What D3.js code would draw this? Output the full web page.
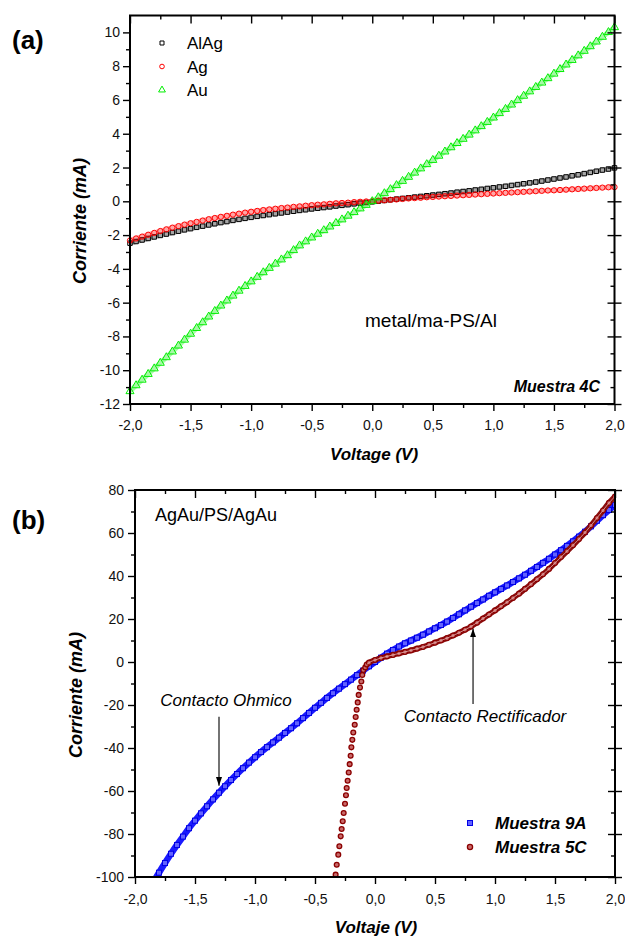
<!DOCTYPE html>
<html>
<head>
<meta charset="utf-8">
<script src="https://cdn.jsdelivr.net/npm/d3@7"></script>
<style>
body { margin: 0; background: #fff; }
svg { display: block; font-family: "Liberation Sans", Arial, sans-serif; }
</style>
</head>
<body>
<svg id="chart" width="625" height="937"></svg>
<script>
// ---- panel (a): metal/ma-PS/Al, Muestra 4C ----
const voltTop = [-2,-1.95,-1.9,-1.85,-1.8,-1.75,-1.7,-1.65,-1.6,-1.55,-1.5,-1.45,-1.4,-1.35,-1.3,-1.25,-1.2,-1.15,-1.1,-1.05,
  -1,-0.95,-0.9,-0.85,-0.8,-0.75,-0.7,-0.65,-0.6,-0.55,-0.5,-0.45,-0.4,-0.35,-0.3,-0.25,-0.2,-0.15,-0.1,-0.05,
  0,0.05,0.1,0.15,0.2,0.25,0.3,0.35,0.4,0.45,0.5,0.55,0.6,0.65,0.7,0.75,0.8,0.85,0.9,0.95,
  1,1.05,1.1,1.15,1.2,1.25,1.3,1.35,1.4,1.45,1.5,1.55,1.6,1.65,1.7,1.75,1.8,1.85,1.9,1.95,2]
const curAlAg = [-2.48,-2.38,-2.29,-2.2,-2.11,-2.02,-1.94,-1.85,-1.77,-1.69,-1.62,-1.54,-1.47,-1.4,-1.33,-1.26,-1.2,-1.13,-1.07,-1.01,
  -0.95,-0.89,-0.84,-0.79,-0.74,-0.69,-0.64,-0.59,-0.54,-0.5,-0.45,-0.41,-0.37,-0.33,-0.28,-0.24,-0.2,-0.15,-0.11,-0.07,
  -0.03,0.01,0.05,0.09,0.13,0.17,0.21,0.25,0.29,0.33,0.37,0.41,0.45,0.49,0.54,0.58,0.62,0.67,0.71,0.76,
  0.8,0.85,0.89,0.94,0.99,1.04,1.09,1.14,1.2,1.26,1.32,1.38,1.44,1.51,1.57,1.64,1.71,1.78,1.85,1.91,1.98]
const curAg = [-2.32,-2.2,-2.09,-1.98,-1.87,-1.76,-1.66,-1.56,-1.47,-1.38,-1.3,-1.22,-1.14,-1.06,-0.99,-0.92,-0.86,-0.79,-0.73,-0.67,
  -0.62,-0.57,-0.52,-0.48,-0.44,-0.4,-0.37,-0.33,-0.3,-0.26,-0.23,-0.2,-0.18,-0.15,-0.12,-0.1,-0.08,-0.05,-0.03,-0.01,
  0.01,0.04,0.06,0.09,0.11,0.14,0.17,0.19,0.21,0.24,0.26,0.28,0.3,0.32,0.34,0.36,0.38,0.4,0.42,0.44,
  0.46,0.48,0.5,0.52,0.54,0.56,0.58,0.6,0.62,0.64,0.65,0.67,0.69,0.71,0.73,0.75,0.77,0.79,0.81,0.83,0.84]
const curAu = [-11.25,-10.9,-10.57,-10.23,-9.9,-9.57,-9.24,-8.9,-8.55,-8.2,-7.85,-7.51,-7.17,-6.83,-6.5,-6.18,-5.88,-5.59,-5.3,-5.02,
  -4.75,-4.48,-4.21,-3.95,-3.7,-3.45,-3.2,-2.9,-2.62,-2.38,-2.15,-1.93,-1.72,-1.5,-1.29,-1.08,-0.86,-0.65,-0.43,-0.22,
  0,0.23,0.47,0.71,0.95,1.2,1.44,1.69,1.94,2.19,2.44,2.69,2.94,3.19,3.44,3.69,3.94,4.19,4.44,4.69,
  4.95,5.21,5.46,5.72,5.98,6.24,6.5,6.76,7.02,7.28,7.55,7.82,8.09,8.36,8.63,8.9,9.17,9.45,9.73,10.01,10.3]
const seriesTop = ["AlAg", "Ag", "Au"]

// ---- panel (b): AgAu/PS/AgAu ----
const volt9A = [-1.85,-1.8,-1.75,-1.7,-1.65,-1.6,-1.55,-1.5,-1.45,-1.4,-1.35,-1.3,-1.25,-1.2,-1.15,-1.1,-1.05,
  -1,-0.95,-0.9,-0.85,-0.8,-0.75,-0.7,-0.65,-0.6,-0.55,-0.5,-0.45,-0.4,-0.35,-0.3,-0.25,-0.2,-0.15,-0.1,-0.05,
  0,0.05,0.1,0.15,0.2,0.25,0.3,0.35,0.4,0.45,0.5,0.55,0.6,0.65,0.7,0.75,0.8,0.85,0.9,0.95,
  1,1.05,1.1,1.15,1.2,1.25,1.3,1.35,1.4,1.45,1.5,1.55,1.6,1.65,1.7,1.75,1.8,1.85,1.9,1.95,2]
const cur9A = [-102.7,-98,-93.5,-89.2,-85.1,-81.2,-77.3,-73.8,-70.4,-67.1,-63.9,-60.8,-57.8,-54.9,-52.1,-49.4,-46.8,
  -44.3,-41.9,-39.6,-37.4,-35.2,-33,-30.8,-28.5,-26.1,-23.7,-21.3,-19,-16.7,-14.5,-12.4,-10.3,-8.2,-6.1,-4,-2,
  0,2,3.9,5.6,7.2,8.7,10,11.3,12.7,14.2,15.7,17.2,18.8,20.5,22.2,24,25.7,27.4,29.1,30.8,
  32.4,34,35.6,37.2,38.9,40.6,42.4,44.2,46.1,48,50,52,54,56.1,58.3,60.6,63.1,65.7,68.3,70.7,73]
const volt5C = [-0.328,-0.319,-0.306,-0.297,-0.286,-0.278,-0.269,-0.261,-0.25,-0.242,-0.236,-0.228,-0.219,-0.211,-0.203,
  -0.197,-0.189,-0.181,-0.169,-0.161,-0.153,-0.144,-0.136,-0.125,-0.114,-0.106,-0.097,-0.081,-0.069,
  -0.05,0,0.05,0.1,0.15,0.2,0.25,0.3,0.35,0.4,0.45,0.5,0.55,0.6,0.65,0.7,0.75,0.8,0.85,0.9,0.95,
  1,1.05,1.1,1.15,1.2,1.25,1.3,1.35,1.4,1.45,1.5,1.55,1.6,1.65,1.7,1.75,1.8,1.85,1.9,1.95,2]
const cur5C = [-98.9,-94.3,-89.6,-85.7,-81.1,-77.7,-74.1,-70.2,-65.9,-62,-58.6,-55.2,-51.4,-47.5,-43.6,
  -39.7,-36.2,-32.8,-29.2,-25.6,-22.2,-18.8,-15.3,-11.9,-9.1,-6,-3.7,-2.5,-1.2,
  -0.3,0.9,1.9,2.6,3.3,4,4.7,5.4,6.2,7,8,9,10,11.1,12.3,13.6,15,16.5,18.3,20.2,22.1,
  24,25.9,27.8,29.8,31.8,34,36.2,38.5,40.8,43.3,46,48.8,51.5,54.3,57.2,60.2,63.5,67,70.5,74,77]
const seriesBot = ["Muestra 9A", "Muestra 5C"]

// tick values
const xMajor = [-2,-1.5,-1,-0.5,0,0.5,1,1.5,2]
const xMinor = [-1.75,-1.25,-0.75,-0.25,0.25,0.75,1.25,1.75]
const yMajorTop = [-12,-10,-8,-6,-4,-2,0,2,4,6,8,10]
const yMinorTop = [-11,-9,-7,-5,-3,-1,1,3,5,7,9]
const yMajorBot = [-100,-80,-60,-40,-20,0,20,40,60,80]
const yMinorBot = [-90,-70,-50,-30,-10,10,30,50,70]

const svg = d3.select("#chart")
const fmtV = d => d.toFixed(1).replace(".", ",")

const styleAxis = g => {
  g.select(".domain").remove()
  g.selectAll(".tick line").attr("stroke", "#000").attr("stroke-width", 1.4)
  g.selectAll(".tick text").attr("fill", "#111").style("font-size", "14px")
}

const drawAxes = (x, y, yMajor, yMinor, xPad, yPad) => {
  const [xl, xr] = x.range(), [yb, yt] = y.range()
  const ax = svg.append("g")
  // bottom
  ax.append("g").attr("transform", `translate(0,${yb})`)
    .call(d3.axisBottom(x).tickValues(xMajor).tickSize(7).tickPadding(xPad).tickFormat(fmtV)).call(styleAxis)
  ax.append("g").attr("transform", `translate(0,${yb})`)
    .call(d3.axisBottom(x).tickValues(xMinor).tickSize(4).tickFormat("")).call(styleAxis)
  // left
  ax.append("g").attr("transform", `translate(${xl},0)`)
    .call(d3.axisLeft(y).tickValues(yMajor).tickSize(7).tickPadding(yPad).tickFormat(d => String(d))).call(styleAxis)
  ax.append("g").attr("transform", `translate(${xl},0)`)
    .call(d3.axisLeft(y).tickValues(yMinor).tickSize(4).tickFormat("")).call(styleAxis)
  // top (ticks inward)
  ax.append("g").attr("transform", `translate(0,${yt})`)
    .call(d3.axisTop(x).tickValues(xMajor).tickSize(-8).tickFormat("")).call(styleAxis)
  ax.append("g").attr("transform", `translate(0,${yt})`)
    .call(d3.axisTop(x).tickValues(xMinor).tickSize(-4).tickFormat("")).call(styleAxis)
  // right (major ticks cross the axis)
  ax.append("g").attr("transform", `translate(${xr},0)`)
    .call(d3.axisRight(y).tickValues(yMajor).tickSize(7).tickFormat("")).call(styleAxis)
  ax.append("g").attr("transform", `translate(${xr},0)`)
    .call(d3.axisRight(y).tickValues(yMajor).tickSize(-7).tickFormat("")).call(styleAxis)
  ax.append("g").attr("transform", `translate(${xr},0)`)
    .call(d3.axisRight(y).tickValues(yMinor).tickSize(-4).tickFormat("")).call(styleAxis)
  ax.append("rect").attr("x", xl).attr("y", yt).attr("width", xr - xl).attr("height", yb - yt)
    .attr("fill", "none").attr("stroke", "#000").attr("stroke-width", 2)
}

const text = (x, y, s, size, opts = {}) => svg.append("text")
  .attr("x", x).attr("y", y).text(s)
  .style("font-size", size + "px")
  .style("font-weight", opts.bold ? "bold" : "normal")
  .style("font-style", opts.italic ? "italic" : "normal")
  .attr("text-anchor", opts.anchor || "start")
  .attr("transform", opts.rotate ? `rotate(-90,${x},${y})` : null)
  .attr("fill", "#000")

// ================= panel (a) =================
const xA = d3.scaleLinear().domain([-2, 2]).range([130, 614.5])
const yA = d3.scaleLinear().domain([-12, 11]).range([404, 15.5])

const topData = [curAlAg, curAg, curAu].map(c => voltTop.map((v, i) => [v, c[i]]))
const topStyle = [
  { color: "#000000", sym: d3.symbolSquare, size: 20, leg: 16 },
  { color: "#ff0000", sym: d3.symbolCircle, size: 22, leg: 17 },
  { color: "#00ee00", sym: d3.symbolTriangle, size: 28, leg: 20 }
]
const lineA = d3.line().x(d => xA(d[0])).y(d => yA(d[1]))

topData.forEach((data, k) => {
  const st = topStyle[k]
  const g = svg.append("g")
  g.append("path").datum(data).attr("d", lineA).attr("fill", "none")
    .attr("stroke", st.color).attr("stroke-opacity", 0.35).attr("stroke-width", 5)
  g.selectAll("path.m").data(data).join("path").attr("class", "m")
    .attr("d", d3.symbol(st.sym, st.size))
    .attr("transform", d => `translate(${xA(d[0])},${yA(d[1])})`)
    .attr("fill", "none").attr("stroke", st.color).attr("stroke-width", 1)
})

drawAxes(xA, yA, yMajorTop, yMinorTop, 9, 3)

// legend (a)
seriesTop.forEach((name, k) => {
  const st = topStyle[k], ly = 43 + k * 23.5
  svg.append("path").attr("d", d3.symbol(st.sym, st.leg)())
    .attr("transform", `translate(162,${ly})`)
    .attr("fill", "none").attr("stroke", st.color).attr("stroke-width", 1)
  text(187, ly + 6, name, 17)
})

text(365, 327, "metal/ma-PS/Al", 19)
text(600, 392, "Muestra 4C", 16, { bold: true, italic: true, anchor: "end" })
text(374, 460, "Voltage (V)", 17, { bold: true, italic: true, anchor: "middle" })
text(86, 221, "Corriente (mA)", 18, { bold: true, italic: true, anchor: "middle", rotate: true })
text(12, 49, "(a)", 26, { bold: true })

// ================= panel (b) =================
const xB = d3.scaleLinear().domain([-2, 2]).range([135, 615])
const yB = d3.scaleLinear().domain([-100, 80]).range([877, 490])

svg.append("clipPath").attr("id", "clipB").append("rect")
  .attr("x", 135).attr("y", 490).attr("width", 480).attr("height", 387)
const gB = svg.append("g").attr("clip-path", "url(#clipB)")
const lineB = d3.line().x(d => xB(d[0])).y(d => yB(d[1])).curve(d3.curveMonotoneX)

const data9A = volt9A.map((v, i) => [v, cur9A[i]])
const data5C = volt5C.map((v, i) => [v, cur5C[i]])

// Muestra 9A: dense blue squares
gB.append("path").datum(data9A).attr("d", lineB).attr("fill", "none")
  .attr("stroke", "#1a1aff").attr("stroke-width", 6.5)
gB.selectAll("rect.m9").data(data9A).join("rect").attr("class", "m9")
  .attr("x", d => xB(d[0]) - 2.5).attr("y", d => yB(d[1]) - 2.5)
  .attr("width", 5).attr("height", 5)
  .attr("fill", "#6262ff").attr("stroke", "#0000e6").attr("stroke-width", 1)

// Muestra 5C: dark red balls
const band5C = data5C.filter(d => d[0] >= -0.07)
gB.append("path").datum(band5C).attr("d", lineB).attr("fill", "none")
  .attr("stroke", "#8b0f0f").attr("stroke-width", 5.5)
gB.selectAll("circle.m5").data(data5C).join("circle").attr("class", "m5")
  .attr("cx", d => xB(d[0])).attr("cy", d => yB(d[1])).attr("r", 2.4)
  .attr("fill", "#c86a6a").attr("stroke", "#8b0000").attr("stroke-width", 1.3)
gB.append("path").datum(band5C).attr("d", lineB).attr("fill", "none")
  .attr("stroke", "#e2b0b0").attr("stroke-width", 0.8)

drawAxes(xB, yB, yMajorBot, yMinorBot, 10, 4)

// arrows
svg.append("defs").append("marker").attr("id", "arrow")
  .attr("viewBox", "0 0 10 10").attr("refX", 10).attr("refY", 5)
  .attr("markerWidth", 8).attr("markerHeight", 8).attr("orient", "auto-start-reverse")
  .append("path").attr("d", "M0,1.5 L10,5 L0,8.5 Z").attr("fill", "#000")
const arrow = (v, i0, i1) => svg.append("line")
  .attr("x1", xB(v)).attr("y1", yB(i0)).attr("x2", xB(v)).attr("y2", yB(i1))
  .attr("stroke", "#000").attr("stroke-width", 1.1).attr("marker-end", "url(#arrow)")
arrow(-1.3, -25.5, -57.5)
arrow(0.817, -19.5, 15.5)

text(226, 706, "Contacto Ohmico", 17, { italic: true, anchor: "middle" })
text(485, 722, "Contacto Rectificador", 17, { italic: true, anchor: "middle" })
text(155, 521, "AgAu/PS/AgAu", 18)

// legend (b)
svg.append("rect").attr("x", 467.5).attr("y", 820.5).attr("width", 5).attr("height", 5)
  .attr("fill", "#6262ff").attr("stroke", "#0000e6").attr("stroke-width", 1)
svg.append("circle").attr("cx", 470).attr("cy", 847).attr("r", 2.6)
  .attr("fill", "#c86a6a").attr("stroke", "#8b0000").attr("stroke-width", 1.3)
seriesBot.forEach((name, k) => text(495, 829 + k * 24, name, 17, { bold: true, italic: true }))

text(376, 933, "Voltaje (V)", 17, { bold: true, italic: true, anchor: "middle" })
text(82, 695, "Corriente (mA)", 18, { bold: true, italic: true, anchor: "middle", rotate: true })
text(12, 529, "(b)", 26, { bold: true })
</script>
</body>
</html>
